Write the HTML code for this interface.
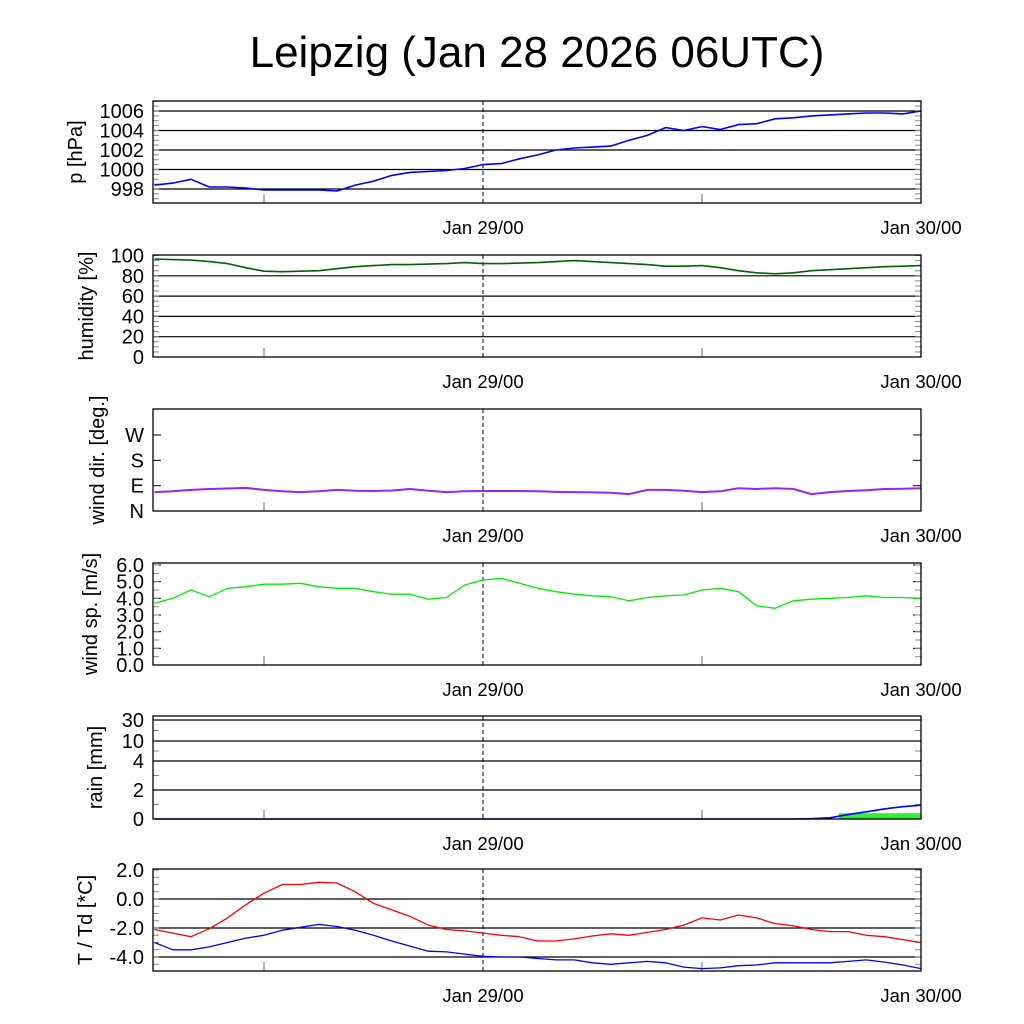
<!DOCTYPE html>
<html><head><meta charset="utf-8"><style>
body{margin:0;background:#fff}
svg{display:block;font-family:"Liberation Sans",sans-serif}
</style></head><body>
<svg id="c" width="1024" height="1024" xmlns="http://www.w3.org/2000/svg">
<text x="537" y="67" font-size="44" text-anchor="middle">Leipzig (Jan 28 2026 06UTC)</text>
</svg>
<script>
const hours=[0,1,2,3,4,5,6,7,8,9,10,11,12,13,14,15,16,17,18,19,20,21,22,23,24,25,26,27,28,29,30,31,32,33,34,35,36,37,38,39,40,41,42];
const pressure=[998.4,998.6,999.0,998.2,998.2,998.1,997.9,997.9,997.9,997.9,997.8,998.4,998.8,999.4,999.7,999.8,999.9,1000.1,1000.5,1000.6,1001.1,1001.5,1002.0,1002.2,1002.3,1002.4,1003.0,1003.5,1004.3,1004.0,1004.4,1004.1,1004.6,1004.7,1005.2,1005.3,1005.5,1005.6,1005.7,1005.8,1005.8,1005.7,1006.0];
const humidity=[96.5,96,95.5,94,92,88,84.5,84,84.5,85,87,89,90,91,91,91.5,92,93,92,92,92.5,93,94,95,94,93,92,91,89.5,89.5,90,88,85,83,82,83,85,86,87,88,89,89.5,90];
const windDir=[67,70,75,78,80,82,75,70,67,70,75,72,71,73,78,72,67,70,71,71,71,70,68,67,66,65,60,75,75,72,67,70,81,78,81,78,60,67,71,74,78,79,81];
const windSpeed=[3.7,4.0,4.5,4.1,4.6,4.7,4.85,4.85,4.9,4.7,4.6,4.6,4.4,4.25,4.25,3.95,4.05,4.8,5.1,5.2,4.9,4.6,4.4,4.25,4.15,4.1,3.85,4.05,4.15,4.2,4.5,4.6,4.4,3.55,3.4,3.85,3.95,4.0,4.05,4.15,4.05,4.05,4.0];
const temp=[-2.1,-2.35,-2.6,-2.05,-1.3,-0.4,0.4,1.0,1.0,1.15,1.1,0.5,-0.3,-0.75,-1.2,-1.8,-2.1,-2.2,-2.35,-2.5,-2.6,-2.9,-2.9,-2.75,-2.55,-2.4,-2.5,-2.3,-2.1,-1.8,-1.3,-1.45,-1.1,-1.3,-1.7,-1.85,-2.1,-2.25,-2.25,-2.5,-2.6,-2.8,-3.0];
const dewpoint=[-3.0,-3.5,-3.5,-3.3,-3.0,-2.7,-2.5,-2.15,-1.95,-1.75,-1.9,-2.15,-2.5,-2.9,-3.25,-3.6,-3.65,-3.8,-3.95,-4.0,-4.0,-4.1,-4.2,-4.2,-4.4,-4.5,-4.4,-4.3,-4.4,-4.7,-4.8,-4.75,-4.6,-4.55,-4.4,-4.4,-4.4,-4.4,-4.3,-4.2,-4.35,-4.55,-4.8];
const rainCum=[0,0,0,0,0,0,0,0,0,0,0,0,0,0,0,0,0,0,0,0,0,0,0,0,0,0,0,0,0,0,0,0,0,0,0,0,0.02,0.08,0.3,0.5,0.7,0.85,0.95];
const rainBarHours=[38.5,39.5,40.5,41.5,42.5];
const rainBarValues=[0.4,0.4,0.4,0.4,0.4];
const xTickHours=[18,42];
const xTickLabels=["Jan 29/00","Jan 30/00"];
const pTicks=[998,1000,1002,1004,1006];
const hTicks=[0,20,40,60,80,100];
const dTicks=[0,90,180,270];
const dLabels=["N","E","S","W"];
const sTicks=[0,1,2,3,4,5,6];
const rTicks=[0,2,4,10,30];
const tTicks=[-4,-2,0,2];

const svg=document.getElementById('c');
const NS='http://www.w3.org/2000/svg';
const X0=153,X1=921;
const xs=h=>Math.max(X0,Math.min(X1,483+(h-18)*18.25));
function mk(tag,attrs,parent){const e=document.createElementNS(NS,tag);for(const k in attrs)e.setAttribute(k,attrs[k]);(parent||svg).appendChild(e);return e;}

function panel(name,top,bot,ylab,tx0,yfun,ticks,labels,grid,minor,labFmt,lines){
  const g=mk('g',{});
  
  
  ticks.forEach((t,i)=>{
    const y=yfun(t);
    if(grid&&y>top+1&&y<bot-1){const l=mk('line',{x1:X0,x2:X1,y1:y,y2:y,stroke:'#000','stroke-width':1.2},g);}
    if(!grid){mk('line',{x1:X0,x2:X0+8,y1:y,y2:y,stroke:'#000'},g);mk('line',{x1:X1-8,x2:X1,y1:y,y2:y,stroke:'#000'},g);}
    const tx=mk('text',{x:X0-9,y:y+7,'font-size':20,'text-anchor':'end'},g);
    
    
    tx.textContent=labels?labels[i]:labFmt(t);
  });
  minor.forEach(v=>{const y=yfun(v);mk('line',{x1:X0,x2:X0+6,y1:y,y2:y,stroke:'#888'},g);mk('line',{x1:X1-6,x2:X1,y1:y,y2:y,stroke:'#888'},g);});
  [6,30].forEach(h=>{mk('line',{x1:xs(h),x2:xs(h),y1:bot,y2:bot-9,stroke:'#666'},g);});
  const dl=mk('line',{x1:xs(18),x2:xs(18),y1:top,y2:bot,stroke:'#000','stroke-dasharray':'4,3'},g);
  
  
  lines(g);
  const fr=mk('rect',{x:X0,y:top,width:X1-X0,height:bot-top,fill:'none',stroke:'#000','stroke-width':1.3},g);
  
  
  xTickHours.forEach((h,i)=>{const t=mk('text',{x:xs(h),y:bot+31,'font-size':18.5,'text-anchor':'middle'},g);t.textContent=xTickLabels[i];});
  const cy=(top+bot)/2;
  const yl=mk('text',{x:0,y:0,'font-size':20,'text-anchor':'middle',transform:`translate(${tx0},${cy}) rotate(-90)`},g);
  
  
  yl.textContent=ylab;
}
function path(g,vals,yfun,color,w,name){
  const d=vals.map((v,i)=>(i?'L':'M')+xs(hours[i]).toFixed(1)+','+yfun(v).toFixed(1)).join('');
  const p=mk('path',{d:d,fill:'none',stroke:color,'stroke-width':w,'stroke-linejoin':'round'},g);
  
  
}
function range(a,b,s){const r=[];for(let v=a;v<=b+1e-9;v+=s)r.push(v);return r;}

const yp=v=>189-(v-998)*9.75;
panel('pressure',101,203,'p [hPa]',82,yp,pTicks,null,true,range(997,1007,0.5),v=>String(v),g=>path(g,pressure,yp,'#0000ff',1.6,'pressure-line'));
const yh=v=>357-v*1.015;
panel('humidity',255,357,'humidity [%]',93,yh,hTicks,null,true,range(0,100,5),v=>String(v),g=>path(g,humidity,yh,'#006400',1.6,'humidity-line'));
const yd=v=>511-v*25.33/90;
panel('wind-direction',409,511,'wind dir. [deg.]',104,yd,dTicks,dLabels,false,[],null,g=>path(g,windDir,yd,'#a020f0',2,'wind-direction-line'));
const ys=v=>665-v*16.67;
panel('wind-speed',563,665,'wind sp. [m/s]',97,ys,sTicks,null,false,range(0,6,0.5),v=>v.toFixed(1),g=>path(g,windSpeed,ys,'#00ee00',1.3,'wind-speed-line'));
const rK=[0,2,4,10,30,40],rY=[819,790,761,741,720,716];
const yr=v=>{for(let i=0;i<rK.length-1;i++){if(v<=rK[i+1]){return rY[i]+(v-rK[i])/(rK[i+1]-rK[i])*(rY[i+1]-rY[i]);}}return 716;};
panel('rain',716,819,'rain [mm]',102,yr,rTicks,null,true,[1,3,7,20],v=>String(v),g=>{
  rainBarHours.forEach((h,i)=>{const y=yr(rainBarValues[i]);const x0=xs(h-1),x1=xs(h);const b=mk('rect',{x:x0,y:y,width:Math.max(0,x1-x0+0.5),height:819-y,fill:'#33ee33'},g);});
  path(g,rainCum,yr,'#0000ff',1.6,'rain-cumulative-line');
});
const yt=v=>899-v*14.5;
panel('temperature',869,971,'T / Td [*C]',92,yt,tTicks,null,true,range(-4.5,2,0.5),v=>v.toFixed(1),g=>{
  path(g,temp,yt,'#ff0000',1.3,'temperature-line');
  path(g,dewpoint,yt,'#0000ff',1.3,'dewpoint-line');
});
</script>
</body></html>
